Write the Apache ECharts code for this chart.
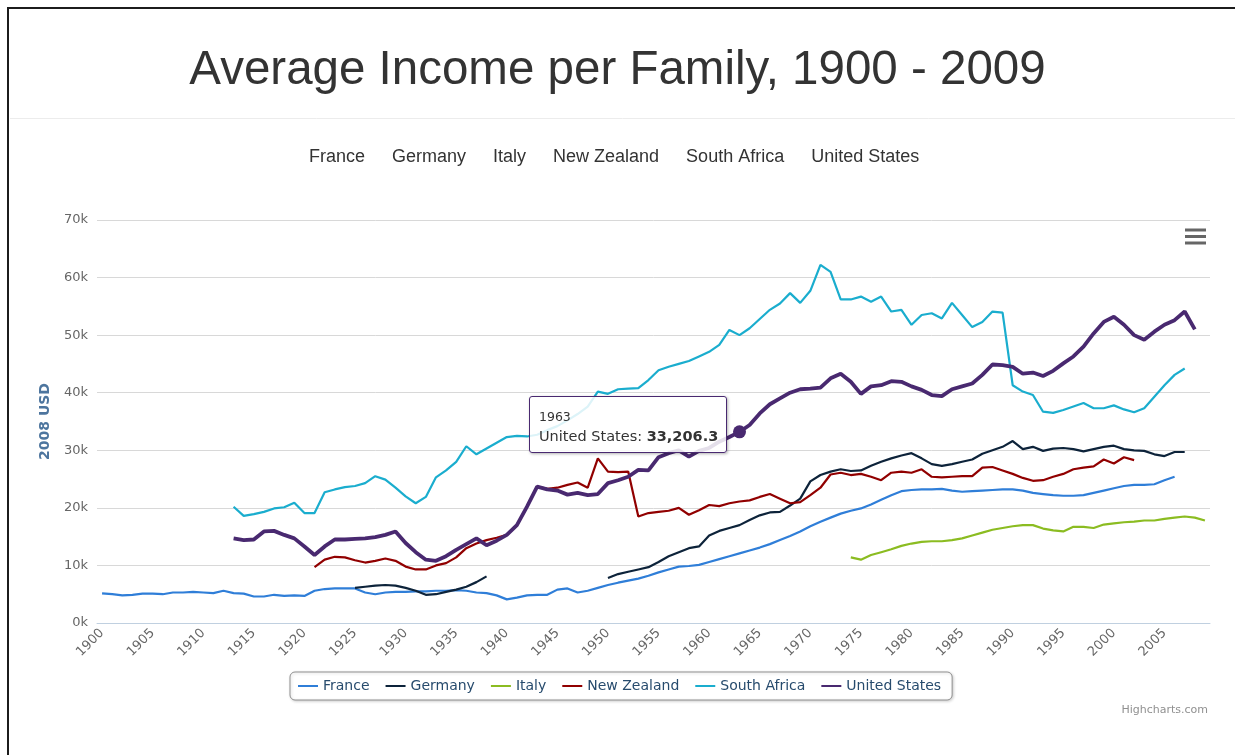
<!DOCTYPE html>
<html>
<head>
<meta charset="utf-8">
<title>Average Income per Family, 1900 - 2009</title>
<script src="https://cdn.jsdelivr.net/npm/echarts@6/dist/echarts.min.js"></script>
<style>
  html, body { margin: 0; padding: 0; background: #fff; overflow: hidden; }
  #chart { position: absolute; left: 0; top: 0; width: 1235px; height: 755px; }
  .frame { position: fixed; left: 7px; top: 7px; right: 0; bottom: 0; border-top: 2px solid #1c1c1c; border-left: 2px solid #1c1c1c; pointer-events: none; }
</style>
</head>
<body>
<div id="chart"></div>
<div class="frame"></div>
<script>
// categories: one per year
const years = []
for (let y = 1900; y <= 2009; y++) years.push(String(y))

const seriesNames = ['France', 'Germany', 'Italy', 'New Zealand', 'South Africa', 'United States']
const seriesColors = ['#2f7ed8', '#0d233a', '#8bbc21', '#910000', '#1aadce', '#492970']

// values, 2008 USD, each list starts at its own year
const franceStart = 1900
const france = [
  5150, 5000, 4800, 4900, 5100, 5100, 5000, 5300, 5300, 5400,
  5300, 5200, 5600, 5200, 5100, 4600, 4600, 4900, 4700, 4800,
  4700, 5600, 5900, 6000, 6000, 6000, 5300, 5000, 5300, 5400,
  5400, 5500, 5500, 5600, 5600, 5700, 5600, 5300, 5200, 4800,
  4100, 4400, 4800, 4900, 4900, 5800, 6000, 5300, 5600, 6100,
  6600, 7000, 7350, 7700, 8200, 8800, 9300, 9800, 9900, 10100,
  10600, 11100, 11600, 12100, 12600, 13100, 13700, 14400, 15100, 15900,
  16800, 17600, 18300, 19000, 19500, 19900, 20600, 21400, 22200, 22900,
  23100, 23200, 23200, 23300, 23000, 22800, 22900, 23000, 23100, 23200,
  23200, 23000, 22600, 22400, 22200, 22100, 22100, 22200, 22600, 23000,
  23400, 23800, 24000, 24000, 24100, 24800, 25400
]
const germanyStart = 1925
const germany = [
  6100, 6300, 6500, 6600, 6500, 6100, 5600, 4900, 5000, 5400,
  5800, 6300, 7100, 8100, null, null, null, null, null, null,
  null, null, null, null, null,
  7800, 8500, 8900, 9300, 9700, 10600, 11600, 12300, 13000, 13300,
  15200, 16000, 16500, 17000, 17900, 18700, 19200, 19300, 20400, 21600,
  24600, 25700, 26300, 26700, 26400, 26500, 27300, 28000, 28600, 29100,
  29500, 28600, 27600, 27300, 27600, 28000, 28400, 29400, 30000, 30600,
  31600, 30200, 30600, 29900, 30300, 30400, 30200, 29800, 30200, 30600,
  30800, 30200, 30000, 29900, 29300, 29000, 29700, 29700
]
const italyStart = 1974
const italy = [
  11400, 11000, 11800, 12300, 12800, 13400,
  13800, 14100, 14200, 14200, 14400, 14700, 15200, 15700, 16200, 16500,
  16800, 17000, 17000, 16400, 16100, 15900, 16700, 16700, 16500, 17100,
  17300, 17500, 17600, 17800, 17800, 18100, 18300, 18500, 18300, 17800
]
const newZealandStart = 1921
const newZealand = [
  9700, 11000, 11500, 11400, 10900, 10500, 10800, 11200, 10800, 9800,
  9300, 9300, 10000, 10400, 11400, 13000, 13800, 14400, 14800, 15300,
  17000, 20200, 23700, 23300, 23500, 24000, 24400, 23500, 28600, 26300,
  26200, 26300, 18500, 19100, 19300, 19500, 20000, 18800, 19600, 20500,
  20300, 20800, 21100, 21300, 21900, 22400, 21600, 20800, 21000, 22200,
  23500, 25800, 26100, 25700, 25900, 25400, 24800, 26100, 26300, 26100,
  26700, 25400, 25300, 25400, 25500, 25500, 27000, 27100, 26500, 25900,
  25200, 24700, 24800, 25400, 25900, 26700, 27000, 27200, 28400, 27700,
  28800, 28300
]
const southAfricaStart = 1913
const southAfrica = [
  20200, 18600, 18900, 19300, 19900, 20100, 20900, 19100, 19100, 22700,
  23200, 23600, 23800, 24300, 25500, 24900, 23500, 22000, 20800, 21900,
  25300, 26500, 28000, 30700, 29300, 30300, 31300, 32300, 32500, 32400,
  32700, 33500, 34200, 35200, 36300, 37600, 40200, 39800, 40600, 40700,
  40800, 42200, 43900, 44500, 45000, 45500, 46300, 47100, 48300, 50900,
  50000, 51200, 52800, 54400, 55500, 57300, 55600, 57700, 62200, 61000,
  56200, 56200, 56700, 55800, 56700, 54100, 54400, 51800, 53500, 53800,
  52900, 55600, 53500, 51400, 52300, 54100, 53900, 41300, 40200, 39600,
  36700, 36500, 37000, 37600, 38200, 37300, 37300, 37800, 37100, 36600,
  37300, 39300, 41300, 43100, 44200
]
const unitedStatesStart = 1913
const unitedStates = [
  14700, 14400, 14500, 15900, 16000, 15300, 14700, 13300, 11800, 13300,
  14500, 14500, 14600, 14700, 14900, 15300, 15900, 13900, 12300, 11000,
  10800, 11600, 12700, 13700, 14700, 13500, 14300, 15300, 17000, 20200,
  23700, 23200, 23000, 22300, 22600, 22200, 22400, 24300, 24800, 25400,
  26600, 26500, 28800, 29500, 30000, 28900, 29900, 30400, 31500, 32300,
  33206.3, 34400, 36400, 38000, 39000, 40000, 40600, 40700, 40900, 42500,
  43300, 41900, 39800, 41100, 41300, 42000, 41900, 41100, 40500, 39600,
  39400, 40600, 41100, 41600, 43100, 44900, 44800, 44500, 43300, 43500,
  42900, 43800, 45100, 46300, 48000, 50300, 52300, 53200, 51800, 50000,
  49200, 50600, 51800, 52600, 54100, 51000
]

// point shown in the tooltip
const tipYear = '1963'
const tipSeries = 'United States'

const yMax = 70000
const yStep = 10000

// put a list that starts at some year onto the full year axis
function onAxis (start, values) {
  const out = years.map(() => null)
  values.forEach((v, i) => { out[start - Number(years[0]) + i] = v })
  return out
}

const seriesData = [
  onAxis(franceStart, france),
  onAxis(germanyStart, germany),
  onAxis(italyStart, italy),
  onAxis(newZealandStart, newZealand),
  onAxis(southAfricaStart, southAfrica),
  onAxis(unitedStatesStart, unitedStates)
]

const tipIndex = years.indexOf(tipYear)
const tipSeriesIndex = seriesNames.indexOf(tipSeries)

const fmt = v => Number(v).toLocaleString('en-US', { minimumFractionDigits: 1, maximumFractionDigits: 1 })

const series = seriesNames.map((name, i) => {
  const hovered = i === tipSeriesIndex
  return {
    name: name,
    type: 'line',
    data: seriesData[i],
    color: seriesColors[i],
    connectNulls: false,
    showSymbol: hovered,
    showAllSymbol: true,
    symbol: 'circle',
    symbolSize: (v, p) => (hovered && p.dataIndex === tipIndex ? 13 : 0),
    itemStyle: { color: seriesColors[i], borderWidth: 0 },
    lineStyle: { width: hovered ? 3.8 : 2.2, color: seriesColors[i] },
    emphasis: { disabled: true },
    z: 2 + i
  }
})

const option = {
  animation: false,
  backgroundColor: '#fff',
  color: seriesColors,
  title: {
    text: 'Average Income per Family, 1900 - 2009',
    left: 'center',
    top: 47,
    padding: 0,
    textStyle: { fontFamily: 'Liberation Sans', fontSize: 47.5, fontWeight: 'normal', color: '#333' }
  },
  legend: [
    {
      data: seriesNames,
      top: 148,
      left: 304,
      padding: 0,
      icon: 'rect',
      itemWidth: 0,
      itemHeight: 0,
      itemGap: 22,
      selectedMode: false,
      textStyle: { fontFamily: 'Liberation Sans', fontSize: 18, color: '#333' }
    },
    {
      data: seriesNames,
      top: 672,
      left: 290,
      icon: 'rect',
      itemWidth: 20,
      itemHeight: 2,
      itemGap: 16,
      padding: [7, 11, 7, 8],
      borderColor: '#909090',
      borderWidth: 1,
      borderRadius: 5,
      backgroundColor: '#fff',
      shadowColor: 'rgba(0,0,0,0.18)',
      shadowBlur: 3,
      shadowOffsetX: 1,
      shadowOffsetY: 1,
      textStyle: { fontFamily: 'DejaVu Sans', fontSize: 14, color: '#274b6d' }
    }
  ],
  tooltip: {
    trigger: 'item',
    triggerOn: 'none',
    alwaysShowContent: true,
    transitionDuration: 0,
    position: [529, 396],
    backgroundColor: 'rgba(255,255,255,0.85)',
    borderColor: seriesColors[tipSeriesIndex],
    borderWidth: 1,
    padding: [10, 8, 6, 9],
    textStyle: { fontFamily: 'DejaVu Sans', color: '#333' },
    extraCssText: 'border-radius:3px;box-shadow:1px 1px 3px rgba(0,0,0,0.3);',
    formatter: p =>
      '<div style="font-size:12.5px;line-height:19px">' + p.name + '</div>' +
      '<div style="font-size:14.5px;line-height:20px">' + p.seriesName + ': <b>' + fmt(p.value) + '</b></div>'
  },
  grid: { left: 97, right: 25, top: 220, bottom: 132, containLabel: false },
  xAxis: {
    type: 'category',
    data: years,
    boundaryGap: true,
    axisLine: { lineStyle: { color: '#C0D0E0', width: 1 } },
    axisTick: {
      length: 6,
      lineStyle: { color: '#C0D0E0' },
      interval: (index) => index === 0 || index % 5 === 1
    },
    axisLabel: {
      interval: 4,
      rotate: 45,
      margin: 8,
      color: '#666',
      fontFamily: 'DejaVu Sans',
      fontSize: 13
    },
    splitLine: { show: false }
  },
  yAxis: {
    type: 'value',
    min: 0,
    max: yMax,
    interval: yStep,
    name: '2008 USD',
    nameLocation: 'middle',
    nameGap: 45,
    nameTextStyle: { fontFamily: 'DejaVu Sans', fontSize: 14, fontWeight: 'bold', color: '#4d759e' },
    axisLine: { show: false },
    axisTick: { show: false },
    axisLabel: {
      margin: 9,
      color: '#666',
      fontFamily: 'DejaVu Sans',
      fontSize: 13,
      formatter: v => (v / 1000) + 'k'
    },
    splitLine: { lineStyle: { color: '#d8d8d8', width: 1 } }
  },
  graphic: [
    { type: 'line', shape: { x1: 10, y1: 118.5, x2: 1235, y2: 118.5 }, style: { stroke: '#ececec', lineWidth: 1 } },
    { type: 'rect', shape: { x: 1185, y: 228.5, width: 21, height: 3 }, style: { fill: '#666' } },
    { type: 'rect', shape: { x: 1185, y: 235, width: 21, height: 3 }, style: { fill: '#666' } },
    { type: 'rect', shape: { x: 1185, y: 241.5, width: 21, height: 3 }, style: { fill: '#666' } },
    {
      type: 'text',
      right: 27,
      top: 705,
      style: { text: 'Highcharts.com', fill: '#909090', font: '11px "DejaVu Sans"' }
    }
  ],
  series: series
}

const chart = echarts.init(document.getElementById('chart'))
chart.setOption(option)
chart.dispatchAction({ type: 'showTip', seriesIndex: tipSeriesIndex, dataIndex: tipIndex })
</script>
</body>
</html>
